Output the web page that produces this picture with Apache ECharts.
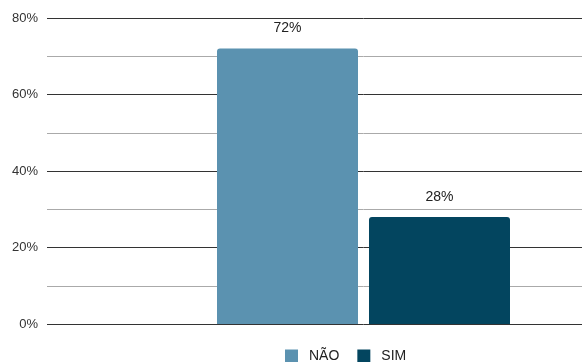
<!DOCTYPE html>
<html>
<head>
<meta charset="utf-8">
<script src="https://cdn.jsdelivr.net/npm/echarts@6/dist/echarts.min.js"></script>
<style>html,body{margin:0;padding:0;background:#fff;overflow:hidden;width:582px;height:362px}#c{width:680px;height:362px}</style>
</head>
<body>
<div id="c"></div>
<script>
var categories = [''];
var seriesNames = ['NÃO', 'SIM'];
var naoValues = [72];
var simValues = [28];
var yTicks = [0, 20, 40, 60, 80];

var chart = echarts.init(document.getElementById('c'), null, {renderer: 'canvas'});
var FONT = 'Liberation Sans, Arial, sans-serif';
var labelCfg = {
  show: true, position: 'top', distance: 13,
  formatter: function (p) { return p.value + '%'; },
  color: '#222', fontSize: 14, fontFamily: FONT
};
chart.setOption({
  animation: false,
  grid: {left: 47, right: 0, top: 18, bottom: 38, containLabel: false},
  legend: {
    top: 349, left: 285, padding: 0, itemWidth: 13, itemHeight: 13, itemGap: 18,
    icon: 'rect',
    textStyle: {color: '#222', fontSize: 14, fontFamily: FONT, padding: [0, 0, 0, 6]},
    data: seriesNames
  },
  xAxis: {
    type: 'category', data: categories,
    axisLine: {show: false}, axisTick: {show: false}, axisLabel: {show: false}
  },
  yAxis: {
    type: 'value', min: yTicks[0], max: yTicks[yTicks.length - 1], interval: 20,
    axisLine: {show: false}, axisTick: {show: false},
    axisLabel: {formatter: '{value}%', color: '#333', fontSize: 13, margin: 9, fontFamily: FONT},
    splitLine: {show: true, lineStyle: {color: '#333', width: 1}},
    minorTick: {show: false, splitNumber: 2},
    minorSplitLine: {show: true, lineStyle: {color: '#aaa', width: 1}}
  },
  series: [
    {name: seriesNames[0], type: 'bar', data: naoValues, barWidth: 141, barGap: '7.8%',
     itemStyle: {color: '#5b92b0', borderRadius: [3, 3, 0, 0]}, label: labelCfg},
    {name: seriesNames[1], type: 'bar', data: simValues, barWidth: 141,
     itemStyle: {color: '#03455f', borderRadius: [3, 3, 0, 0]}, label: labelCfg}
  ]
});
</script>
</body>
</html>
